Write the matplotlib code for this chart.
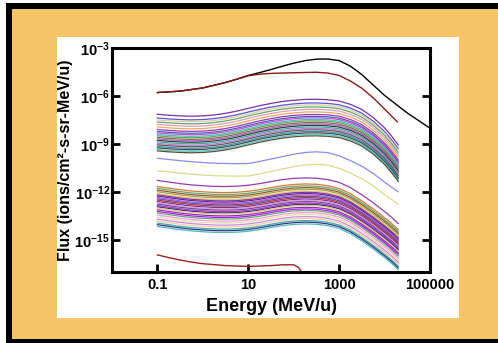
import numpy as np
import matplotlib.pyplot as plt
from matplotlib.patches import Rectangle
from matplotlib.ticker import NullLocator

plt.rcParams['font.family'] = 'Liberation Sans'
plt.rcParams['font.weight'] = 'bold'
plt.rcParams['mathtext.fontset'] = 'custom'
plt.rcParams['mathtext.rm'] = 'Liberation Sans:bold'
plt.rcParams['mathtext.it'] = 'Liberation Sans:bold'
plt.rcParams['mathtext.bf'] = 'Liberation Sans:bold'

# energy grid (MeV/u) for the element spectra
energy = [0.1, 0.178, 0.316, 0.562, 1, 1.78, 3.16, 5.62, 10, 17.8, 31.6, 56.2,
          100, 178, 316, 562, 1000, 1778, 3162, 5623, 10000, 14125, 20000]

# spectral shapes, log10 of flux relative to the flux at 0.1 MeV/u
shape_upper = [0, -0.06, -0.10, -0.12, -0.10, -0.04, 0.06, 0.20, 0.37, 0.54, 0.68, 0.80,
               0.88, 0.93, 0.94, 0.91, 0.83, 0.62, 0.30, -0.20, -0.85, -1.35, -1.92]
shape_mid = [0, -0.08, -0.15, -0.22, -0.27, -0.31, -0.33, -0.34, -0.33, -0.20, -0.05, 0.10,
             0.25, 0.36, 0.40, 0.35, 0.15, -0.15, -0.50, -0.95, -1.50, -1.80, -2.10]
shape_lower = [0, -0.10, -0.20, -0.28, -0.33, -0.37, -0.38, -0.36, -0.30, -0.20, -0.07, 0.05,
               0.13, 0.16, 0.14, 0.05, -0.12, -0.45, -0.90, -1.40, -1.95, -2.30, -2.70]

# log10 flux at 0.1 MeV/u for each element
start_upper = [-7.13, -7.36, -7.48, -7.61, -7.76, -7.92, -8.08, -8.20, -8.29, -8.39, -8.48,
               -8.58, -8.67, -8.76, -8.86, -8.95, -9.04, -9.14, -9.23, -9.33, -9.42]
start_mid = [-9.88, -10.66]
start_lower = [-11.27, -11.65, -11.77, -11.88, -11.98, -12.09, -12.17, -12.25, -12.34, -12.42,
               -12.50, -12.59, -12.67, -12.75, -12.84, -12.92, -13.00, -13.11, -13.21, -13.31,
               -13.44, -13.56, -13.69, -13.81, -13.94, -14.04, -14.15]

# top curve (black) and second curve (dark red), plus the lowest curve
energy_black = [0.1, 0.316, 1, 3.16, 5.62, 10, 17.8, 31.6, 56.2, 100, 178, 316, 562, 1000,
                1778, 3162, 5623, 10000, 31623, 100000]
flux_black = [-5.77, -5.68, -5.48, -5.14, -4.93, -4.70, -4.52, -4.33, -4.12, -3.93, -3.77,
              -3.68, -3.67, -3.77, -4.12, -4.65, -5.30, -5.95, -7.05, -8.00]
energy_red = [0.1, 0.316, 1, 3.16, 5.62, 10, 17.8, 31.6, 100, 316, 562, 1000, 1778, 3162,
              5623, 10000, 19000]
flux_red = [-5.77, -5.68, -5.48, -5.14, -4.93, -4.72, -4.62, -4.57, -4.53, -4.50, -4.55,
            -4.70, -5.05, -5.50, -6.10, -6.80, -7.60]
energy_low = [0.1, 0.178, 0.316, 0.562, 1, 3.16, 10, 31.6, 56.2, 100, 126, 158]
flux_low = [-15.93, -16.10, -16.25, -16.38, -16.48, -16.60, -16.65, -16.60, -16.55, -16.55,
            -16.70, -17.10]

x_ticks = [0.1, 10, 1000, 100000]
x_labels = ['0.1', '10', '1000', '100000']
y_ticks = [1e-3, 1e-6, 1e-9, 1e-12, 1e-15]
y_labels = [r'$10^{-3}$', r'$10^{-6}$', r'$10^{-9}$', r'$10^{-12}$', r'$10^{-15}$']

colors_upper = ['#6a1b9a', '#4b3fd8', '#d8c890', '#4f9f5a', '#e58fb0', '#e8a050', '#8e24aa',
                '#3949ab', '#c040d0', '#30b8b8', '#5a9a50', '#7a5a30', '#9b59d0', '#222222',
                '#2aa198', '#b36bd6', '#5c4033', '#1e88a8', '#333333', '#40c0c0', '#4a3a20']
colors_mid = ['#7f7ff0', '#d6d680']
colors_lower = ['#8e24aa', '#d2691e', '#4f9f5a', '#8b4513', '#9a9a40', '#e8c060', '#7b1fa2',
                '#4a148c', '#c040d0', '#3949ab', '#b22222', '#6a1b9a', '#e58fb0', '#5e35b1',
                '#9c27b0', '#2e1a6e', '#e0c070', '#7b1fa2', '#aa00ff', '#4f9f5a', '#ff8fd0',
                '#e8d8a8', '#c77dd6', '#f0c8a0', '#2aa198', '#1a237e', '#40b0b0']

fig = plt.figure(figsize=(4.98, 3.43), dpi=100)
fig.patches.append(Rectangle((6/498, 0), 1, 340/343, transform=fig.transFigure,
                             facecolor='black', edgecolor='none', zorder=-3))
fig.patches.append(Rectangle((12/498, 4/343), 1, 330/343, transform=fig.transFigure,
                             facecolor='#F5C466', edgecolor='none', zorder=-2))
fig.patches.append(Rectangle((57/498, 25/343), 402/498, 281/343, transform=fig.transFigure,
                             facecolor='white', edgecolor='none', zorder=-1))

ax = fig.add_axes([0.2249, 0.2070, 0.6386, 0.6522])
ax.set_facecolor('white')

e = np.array(energy)
groups = [(start_upper, shape_upper, colors_upper),
          (start_mid, shape_mid, colors_mid),
          (start_lower, shape_lower, colors_lower)]
for starts, shape, cols in groups:
    for s, c in zip(starts, cols):
        ax.plot(e, 10 ** (s + np.array(shape)), color=c, lw=0.9, alpha=0.9)

ax.plot(energy_black, 10 ** np.array(flux_black), color='black', lw=1.0)
ax.plot(energy_red, 10 ** np.array(flux_red), color='#8b1a1a', lw=1.0)
ax.plot(energy_low, 10 ** np.array(flux_low), color='#9b2020', lw=1.0)

ax.set_xscale('log')
ax.set_yscale('log')
ax.set_xlim(0.01, 1e5)
ax.set_ylim(1e-17, 1e-3)
ax.set_xticks(x_ticks, x_labels)
ax.set_yticks(y_ticks, y_labels)
ax.xaxis.set_minor_locator(NullLocator())
ax.yaxis.set_minor_locator(NullLocator())
ax.tick_params(which='major', direction='in', length=6, width=2, right=True, top=False,
               labelsize=10.5)
ax.tick_params(axis='y', pad=1.5)
ax.tick_params(axis='x', pad=4)
for sp in ax.spines.values():
    sp.set_linewidth(2.2)

ax.set_xlabel('Energy (MeV/u)', fontsize=13, fontweight='bold')
ax.set_ylabel('Flux (ions/cm²-s-sr-MeV/u)', fontsize=11.5, fontweight='bold')
ax.xaxis.set_label_coords(0.5, -0.116)
ax.yaxis.set_label_coords(-0.123, 0.5)

fig.savefig('out.png', dpi=100)
